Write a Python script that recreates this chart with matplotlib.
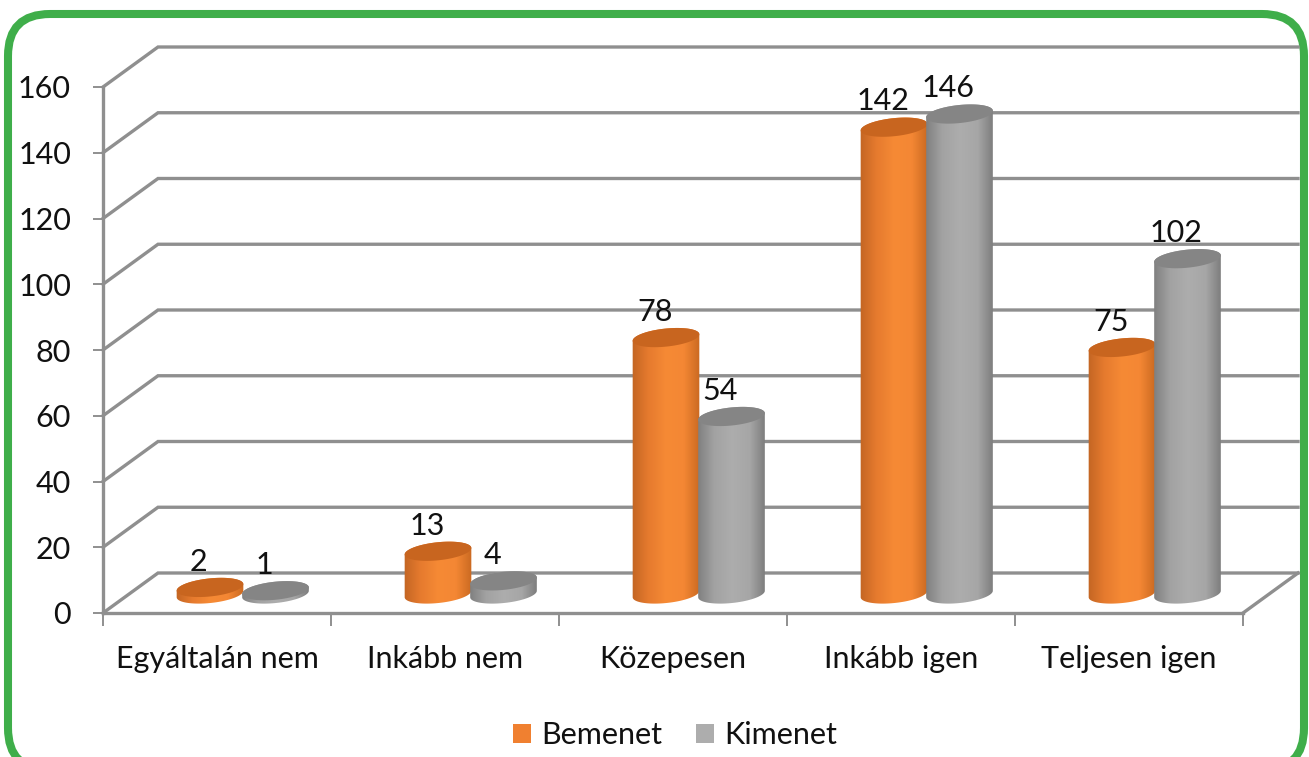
import numpy as np
import matplotlib
matplotlib.use('Agg')
import matplotlib.pyplot as plt
from matplotlib.colors import LinearSegmentedColormap
from matplotlib.patches import FancyBboxPatch, Patch, PathPatch
from matplotlib.path import Path

categories = ['Egyáltalán nem', 'Inkább nem', 'Közepesen', 'Inkább igen', 'Teljesen igen']
bemenet = [2, 13, 78, 142, 75]
kimenet = [1, 4, 54, 146, 102]
yticks = [0, 20, 40, 60, 80, 100, 120, 140, 160]

W, H = 1309, 757
plt.rcParams['font.family'] = ['Lato', 'DejaVu Sans']

fig = plt.figure(figsize=(W / 100, H / 100), dpi=100, facecolor='white')

# green frame, in pixels
bg = fig.add_axes([0, 0, 1, 1])
bg.set_xlim(0, W)
bg.set_ylim(H, 0)
bg.axis('off')
bg.add_patch(FancyBboxPatch((8, 14), 1296, 756, boxstyle='round,pad=0,rounding_size=42',
                            fc='white', ec='#3FAE4A', lw=5.8))

# plot area
left, right, y0, y160 = 103, 1243, 613, 87
ax = fig.add_axes([left / W, 1 - y0 / H, (right - left) / W, (y0 - y160) / H])
ax.patch.set_alpha(0)
sx = (right - left) / 5      # px per category
sy = (y0 - y160) / 160       # px per unit

depth_x = 55 / sx
depth_y = 40 / sy
bar_w = 67 / sx
grid_c = '#8f8f8f'

for v in yticks:
    ax.plot([0, depth_x, 5 + depth_x], [v, v + depth_y, v + depth_y],
            color=grid_c, lw=2.4, clip_on=False, zorder=1, solid_joinstyle='miter')
ax.plot([5, 5 + depth_x], [0, depth_y], color=grid_c, lw=2.4, clip_on=False, zorder=1)

theta = np.radians(6)
a_px, b_px = 33.5, 9


def ell(cx, cy, t):
    x = cx + (a_px * np.cos(t) * np.cos(theta) - b_px * np.sin(t) * np.sin(theta)) / sx
    y = cy + (a_px * np.cos(t) * np.sin(theta) + b_px * np.sin(t) * np.cos(theta)) / sy
    return np.column_stack([x, y])


def cylinder(cx, val, cmap, top_color, z):
    base = 19 / sy
    top = val + base
    lower = ell(cx, base, np.linspace(np.pi, 2 * np.pi, 50))
    upper = ell(cx, top, np.linspace(0, np.pi, 50))
    side = PathPatch(Path(np.vstack([lower, upper, lower[:1]]), closed=True),
                     transform=ax.transData, fc='none', ec='none')
    ax.add_patch(side)
    grad = np.linspace(0, 1, 128).reshape(1, -1)
    im = ax.imshow(grad, cmap=cmap, aspect='auto', zorder=z,
                   extent=[cx - bar_w / 2 - 0.01, cx + bar_w / 2 + 0.01, -5, top + 10])
    im.set_clip_path(side)
    im.set_clip_on(True)
    cap = ell(cx, top, np.linspace(0, 2 * np.pi, 100))
    ax.fill(cap[:, 0], cap[:, 1], color=top_color, zorder=z + 0.1, clip_on=False, lw=0)
    ax.annotate(str(val), (cx, val + base), xytext=(-8, 18.5), textcoords='offset points',
                ha='center', va='center', fontsize=22, color='#111111', zorder=z + 0.2,
                annotation_clip=False)


orange = LinearSegmentedColormap.from_list('o', ['#BF6322', '#E57A2E', '#F68A35', '#F48734', '#C5661F'])
grey = LinearSegmentedColormap.from_list('g', ['#7C7C7C', '#A2A2A2', '#ADADAD', '#A6A6A6', '#767676'])

centers = np.arange(5) + 0.5 + depth_x / 2
for i in range(5):
    cylinder(centers[i] - bar_w / 2 - 1 / sx, bemenet[i], orange, '#C8651F', 3 + i)
    cylinder(centers[i] + bar_w / 2 - 2.5 / sx, kimenet[i], grey, '#858585', 3.5 + i)

ax.set_xlim(0, 5)
ax.set_ylim(0, 160)
for s in ['top', 'right']:
    ax.spines[s].set_visible(False)
for s in ['left', 'bottom']:
    ax.spines[s].set_color(grid_c)
    ax.spines[s].set_linewidth(2.4)

ax.set_yticks(yticks)
ax.set_xticks(range(6))
ax.set_xticklabels([])
ax.set_xticks(np.arange(5) + 0.5, categories, minor=True)
ax.tick_params(axis='y', length=7, width=1.4, color=grid_c, labelsize=22, pad=16, labelcolor='#111111')
ax.tick_params(axis='x', which='major', length=9, width=1.4, color=grid_c)
ax.tick_params(axis='x', which='minor', length=0, labelsize=22, pad=23, labelcolor='#111111')

handles = [Patch(fc='#F08030', label='Bemenet'), Patch(fc='#ADADAD', label='Kimenet')]
fig.legend(handles=handles, loc='center', bbox_to_anchor=(675 / W, 1 - 735 / H), ncol=2,
           frameon=False, fontsize=22, handlelength=0.6, handleheight=0.6,
           handletextpad=0.33, columnspacing=1.08, labelcolor='#111111')

fig.savefig('out.png', dpi=100)
